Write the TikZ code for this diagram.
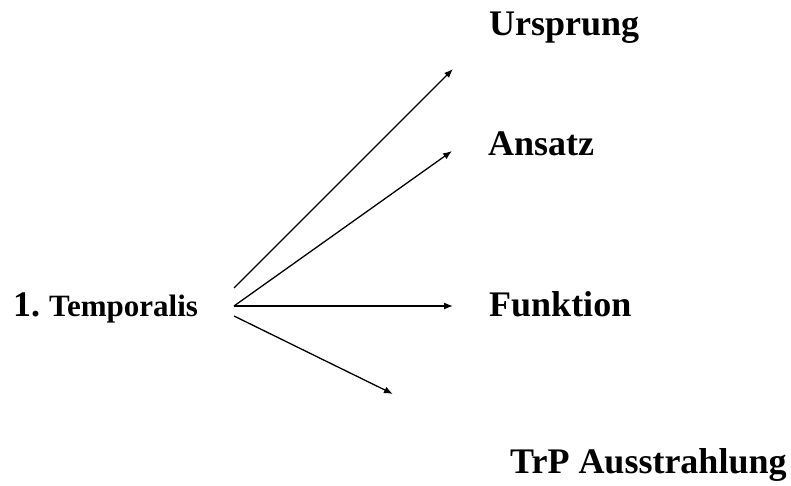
\documentclass[tikz,border=0pt]{standalone}
\usepackage{fontspec}
\setmainfont{Liberation Serif}
\usetikzlibrary{arrows.meta}
\begin{document}
\begin{tikzpicture}[x=1pt,y=-1pt,
  lbl/.style={anchor=base west,inner sep=0pt,font=\fontsize{36}{40}\selectfont\bfseries},
  arr/.style={-{Latex[length=9pt,width=7pt]},line width=1.3pt}]
\useasboundingbox (0,0) rectangle (791,486);
\node[lbl,font=\fontsize{36}{40}\selectfont\bfseries] (num) at (13,316) {1.};
\node[lbl,font=\fontsize{31}{36}\selectfont\bfseries] (src) at (49,316) {Temporalis};
\node[lbl] (u) at (489,36) {Ursprung};
\node[lbl] (a) at (488,156) {Ansatz};
\node[lbl] (f) at (489,316) {Funktion};
\node[lbl] (t) at (510,473) {TrP Ausstrahlung};
\coordinate (s1) at (234,288);
\coordinate (s2) at (234,306);
\coordinate (s3) at (234,316);
\coordinate (e1) at (453,69);
\coordinate (e2) at (452,151);
\coordinate (e3) at (453,306);
\coordinate (e4) at (393,394);
\draw[arr] (s1) -- (e1);
\draw[arr] (s2) -- (e2);
\draw[arr] (s2) -- (e3);
\draw[arr] (s3) -- (e4);
\end{tikzpicture}
\end{document}
